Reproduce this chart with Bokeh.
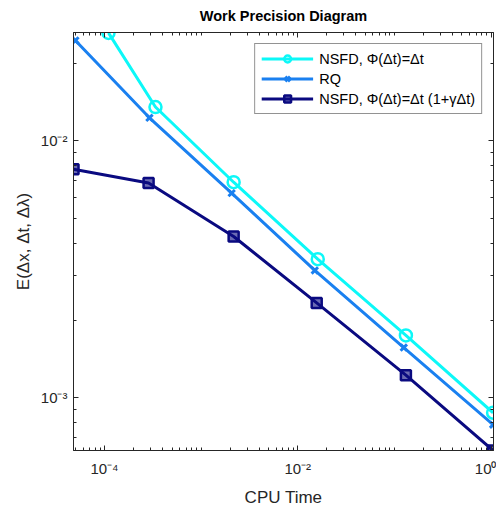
from bokeh.plotting import figure
from bokeh.models import Range1d, FixedTicker, LogAxis, CustomJSTickFormatter, Legend, LegendItem
from bokeh.embed import file_html
from bokeh.resources import INLINE

# Data
cpu_nsfd = [1.10e-4, 3.37e-4, 2.17e-3, 1.61e-2, 1.315e-1, 1.05]
err_nsfd = [2.62e-2, 1.35e-2, 6.89e-3, 3.46e-3, 1.75e-3, 8.76e-4]

cpu_rq = [5.0e-5, 2.92e-4, 2.07e-3, 1.50e-2, 1.25e-1, 1.05]
err_rq = [2.45e-2, 1.226e-2, 6.25e-3, 3.13e-3, 1.57e-3, 7.87e-4]

cpu_nsfd2 = [4.78e-5, 2.86e-4, 2.17e-3, 1.57e-2, 1.315e-1, 1.05]
err_nsfd2 = [7.74e-3, 6.84e-3, 4.24e-3, 2.34e-3, 1.226e-3, 6.25e-4]

x_major = [1e-4, 1e-2, 1.0]
y_major = [1e-3, 1e-2]

FONT = "Liberation Sans"
AX = "#262626"

x_minor = [k * 10.0 ** e for e in range(-5, 1) for k in range(1, 10)]
y_minor = [k * 10.0 ** e for e in range(-4, -1) for k in range(1, 10)]

p = figure(width=496, height=509, x_axis_type="log", y_axis_type="log",
           x_range=Range1d(4.78e-5, 1.06), y_range=Range1d(6.25e-4, 0.0263),
           output_backend="svg", toolbar_location=None,
           min_border_left=73, min_border_right=2, min_border_top=29, min_border_bottom=58)

p.title.text = "Work Precision Diagram"
p.title.align = "center"
p.title.text_font = FONT
p.title.text_font_size = "14.5px"
p.title.text_font_style = "bold"
p.title.text_color = "black"

p.grid.visible = False
p.outline_line_color = AX
p.background_fill_color = "white"
p.border_fill_color = "white"

sup = CustomJSTickFormatter(code="""
const e = Math.round(Math.log10(tick));
const m = {'-':'\u207b','0':'\u2070','1':'\u00b9','2':'\u00b2','3':'\u00b3','4':'\u2074','5':'\u2075','6':'\u2076','7':'\u2077','8':'\u2078','9':'\u2079'};
return '10' + String(e).split('').map(c => m[c]).join('');
""")
blank = CustomJSTickFormatter(code="return ' ';")

def style_axis(ax, ticks, minor, labels=True):
    ax.ticker = FixedTicker(ticks=ticks, minor_ticks=minor)
    ax.axis_line_color = AX
    ax.major_tick_line_color = AX
    ax.minor_tick_line_color = AX
    ax.major_tick_in = 5
    ax.major_tick_out = 0
    ax.minor_tick_in = 3
    ax.minor_tick_out = 0
    if labels:
        ax.formatter = sup
        ax.major_label_text_font = FONT
        ax.major_label_text_font_size = "15px"
        ax.major_label_text_color = AX
        ax.axis_label_text_font = FONT
        ax.axis_label_text_font_size = "17px"
        ax.axis_label_text_font_style = "normal"
        ax.axis_label_text_color = AX
    else:
        ax.formatter = blank
        ax.major_label_text_font_size = "1px"
        ax.major_label_standoff = 0

style_axis(p.xaxis[0], x_major, x_minor)
style_axis(p.yaxis[0], y_major, y_minor)
p.xaxis[0].axis_label = "CPU Time"
p.yaxis[0].axis_label = "E(Δx, Δt, Δλ)"
p.xaxis[0].major_label_standoff = 9
p.yaxis[0].major_label_standoff = 6
p.xaxis[0].axis_label_standoff = 8

top = LogAxis()
right = LogAxis()
style_axis(top, x_major, x_minor, labels=False)
style_axis(right, y_major, y_minor, labels=False)
p.add_layout(top, "above")
p.add_layout(right, "right")

c1, c2, c3 = "#0CF8F8", "#1A80F0", "#0A0A80"

l1 = p.line(cpu_nsfd, err_nsfd, color=c1, line_width=3)
s1 = p.scatter(cpu_nsfd, err_nsfd, marker="circle", size=12, fill_color="white",
               fill_alpha=0, line_color=c1, line_width=2.5)
l2 = p.line(cpu_rq, err_rq, color=c2, line_width=3)
s2 = p.scatter(cpu_rq, err_rq, marker="x", size=9, line_color=c2, line_width=3)
l3 = p.line(cpu_nsfd2, err_nsfd2, color=c3, line_width=3)
s3 = p.scatter(cpu_nsfd2, err_nsfd2, marker="square", size=10, fill_color=c3,
               fill_alpha=0.6, line_color=c3, line_width=2.5)

legend = Legend(items=[
    LegendItem(label="NSFD, Φ(Δt)=Δt", renderers=[l1, s1]),
    LegendItem(label="RQ", renderers=[l2, s2]),
    LegendItem(label="NSFD, Φ(Δt)=Δt (1+γΔt)", renderers=[l3, s3]),
], location="top_right")
legend.label_text_font = FONT
legend.label_text_font_size = "14.5px"
legend.label_text_color = "black"
legend.border_line_color = AX
legend.border_line_width = 1
legend.background_fill_color = "white"
legend.background_fill_alpha = 1
legend.glyph_width = 52
legend.glyph_height = 17
legend.label_standoff = 6
legend.label_height = 17
legend.spacing = 3
legend.padding = 6
legend.margin = 11
p.add_layout(legend, "center")

open("out.html", "w").write(file_html(p, INLINE))
